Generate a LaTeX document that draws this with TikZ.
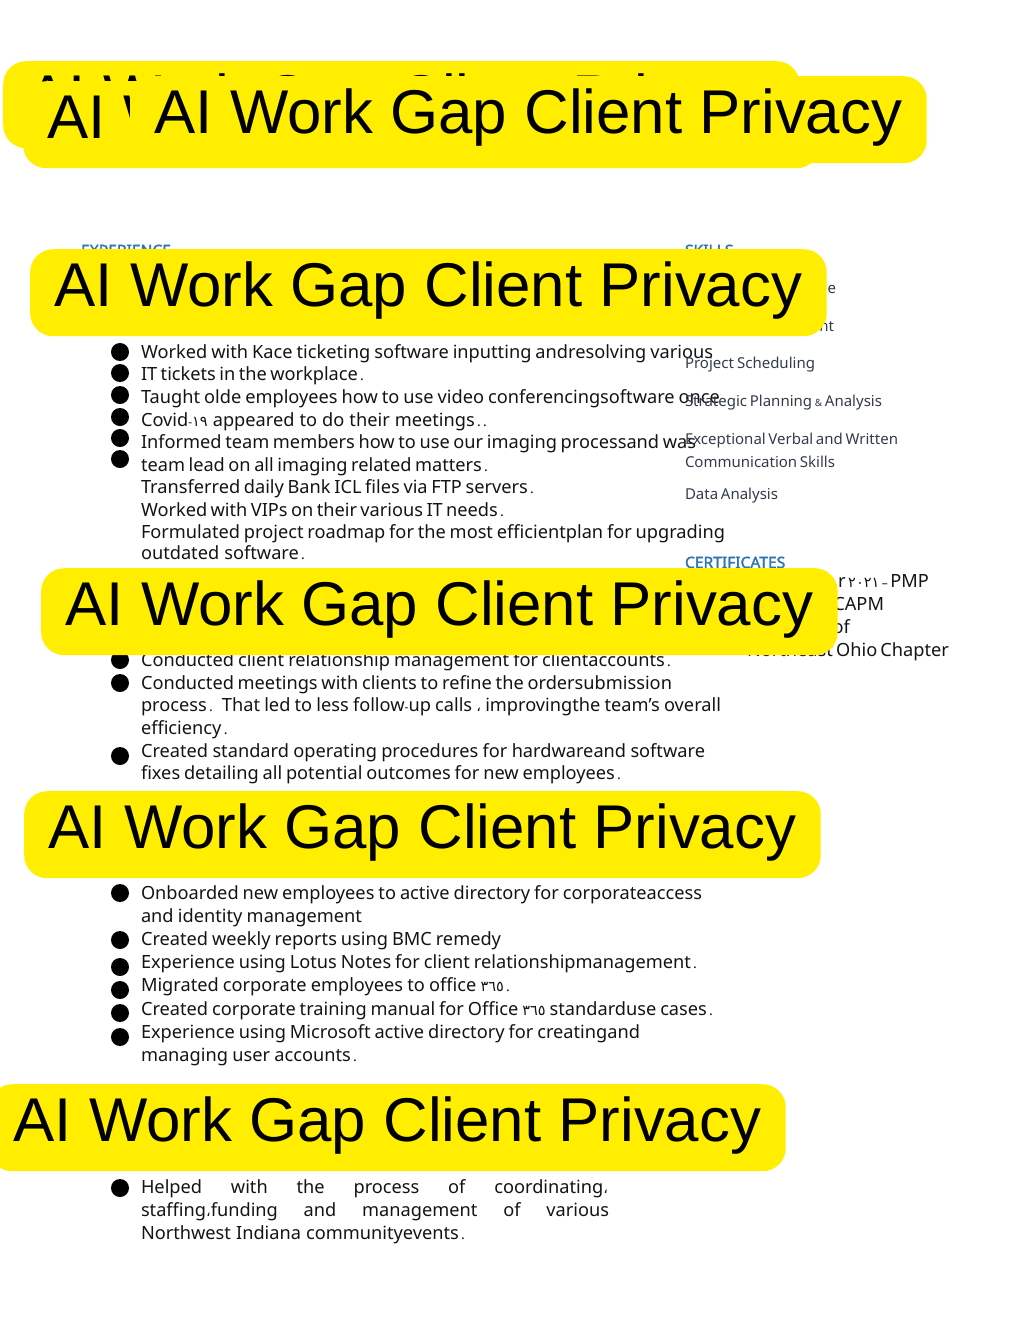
\documentclass[tikz,border=0pt]{standalone}
\usepackage{fontspec}
\setmainfont{Noto Sans}
\newfontfamily\arabfont[Script=Arabic]{DejaVu Sans}
\newfontfamily\bannerfont{Liberation Sans}
\newfontfamily\headfont[FakeBold=2]{Noto Sans}
\definecolor{bannerY}{HTML}{FFEE00}
\definecolor{headB}{HTML}{2E75B6}
\definecolor{skillC}{HTML}{323B4C}
\newcommand{\dg}[1]{{\fontsize{14.5}{14}\arabfont #1}}
\newcommand{\pd}{{\fontsize{14}{14}\selectfont\,.}}
\newcommand{\tightsp}{\spaceskip=0.14em plus 4em minus 0.1em\relax}
\newcommand{\tline}[5][bodytext]{\node[#1,anchor=base west] at (#2,#3) {\makebox[#4pt][s]{\tightsp #5}};}
\newcommand{\rtext}[4][bodytext]{\node[#1,anchor=base east] at (#2,#3) {\tightsp #4};}
\newcommand{\banner}[2]{\node[bannerbox,anchor=north west] at (#1,#2) {\raisebox{0pt}[27pt][0pt]{AI Work Gap Client Privacy}};}
\tikzset{
  bodytext/.style={inner sep=0,outer sep=0,font=\fontsize{18.2}{19}\selectfont,text=black!92},
  skilltext/.style={inner sep=0,outer sep=0,font=\fontsize{15}{16}\selectfont,text=skillC},
  headtext/.style={inner sep=0,outer sep=0,font=\fontsize{15.6}{16}\headfont,text=headB},
  bulletdot/.style={circle,fill=black,inner sep=0,minimum size=18pt},
  bannerbox/.style={fill=bannerY,rounded corners=23pt,minimum width=796.5pt,minimum height=87pt,inner sep=0,text=black,font=\fontsize{61.8}{62}\bannerfont}
}
\begin{document}
\begin{tikzpicture}[x=1pt,y=-1pt]
\useasboundingbox (0,0) rectangle (1024,1326);
% section heads
\tline[headtext]{81}{256}{90}{EXPERIENCE}
\tline[headtext]{685}{256}{48}{SKILLS}
\tline[headtext]{685}{568}{101}{CERTIFICATES}
% bullets
\foreach \yy in {352,373,395,417,438,459,660,683,756,869,893,940,967,990,1013,1037,1188}
  \node[bulletdot] at (120,\yy) {};
% first block
\tline{141}{358}{572}{Worked with Kace ticketing software inputting andresolving various}
\tline{141}{380}{223}{IT tickets in the workplace\pd}
\tline{141}{403}{579}{Taught olde employees how to use video conferencingsoftware once}
\tline{141}{426}{346}{Covid{\fontsize{12}{12}\selectfont-}\dg{۱۹} appeared to do their meetings\pd\pd}
\tline{141}{448}{555}{Informed team members how to use our imaging processand was}
\tline{141}{471}{347}{team lead on all imaging related matters\pd}
\tline{141}{493}{393}{Transferred daily Bank ICL files via FTP servers\pd}
\tline{141}{516}{363}{Worked with VIPs on their various IT needs\pd}
\tline{141}{538}{584}{Formulated project roadmap for the most efficientplan for upgrading}
\tline{141}{559}{164}{outdated software\pd}
% second block
\tline{141}{666}{530}{Conducted client relationship management for clientaccounts\pd}
\tline{141}{689}{531}{Conducted meetings with clients to refine the ordersubmission}
\tline{141}{711}{580}{process\pd{} That led to less follow{\fontsize{12}{12}\selectfont-}up calls \dg{،} improvingthe team’s overall}
\tline{141}{734}{88}{efficiency\pd}
\tline{141}{757}{564}{Created standard operating procedures for hardwareand software}
\tline{141}{779}{480}{fixes detailing all potential outcomes for new employees\pd}
% third block
\tline{141}{899}{561}{Onboarded new employees to active directory for corporateaccess}
\tline{141}{922}{221}{and identity management}
\tline{141}{945}{360}{Created weekly reports using BMC remedy}
\tline{141}{968}{556}{Experience using Lotus Notes for client relationshipmanagement\pd}
\tline{141}{991}{369}{Migrated corporate employees to office \dg{٣٦٥}\pd}
\tline{141}{1015}{572}{Created corporate training manual for Office \dg{٣٦٥} standarduse cases\pd}
\tline{141}{1038}{499}{Experience using Microsoft active directory for creatingand}
\tline{141}{1061}{216}{managing user accounts\pd}
% fourth block
\tline{141}{1193}{467}{Helped with the process of coordinating\dg{،}}
\tline{141}{1216}{468}{staffing\dg{،}funding and management of various}
\tline{141}{1239}{324}{Northwest Indiana communityevents\pd}
% skills
\rtext[skilltext]{836}{293}{e}
\rtext[skilltext]{834}{331}{nt}
\tline[skilltext]{685}{368}{130}{Project Scheduling}
\tline[skilltext]{685}{406}{197}{Strategic Planning {\fontsize{10}{10}\selectfont\&} Analysis}
\tline[skilltext]{685}{444}{213}{Exceptional Verbal and Written}
\tline[skilltext]{685}{467}{150}{Communication Skills}
\tline[skilltext]{685}{499}{93}{Data Analysis}
% certificates
\rtext{929}{587}{r \dg{۲۰۲۱} {\fontsize{12}{12}\selectfont–} PMP}
\rtext{884}{610}{CAPM}
\rtext{850}{633}{of}
\tline{747}{656}{202}{Northeast Ohio Chapter}
% banners
\banner{3}{61}
\banner{23}{81}
\banner{130}{76}
\banner{30}{249}
\banner{41}{568}
\banner{24}{791}
\banner{-11}{1084}
\end{tikzpicture}
\end{document}
